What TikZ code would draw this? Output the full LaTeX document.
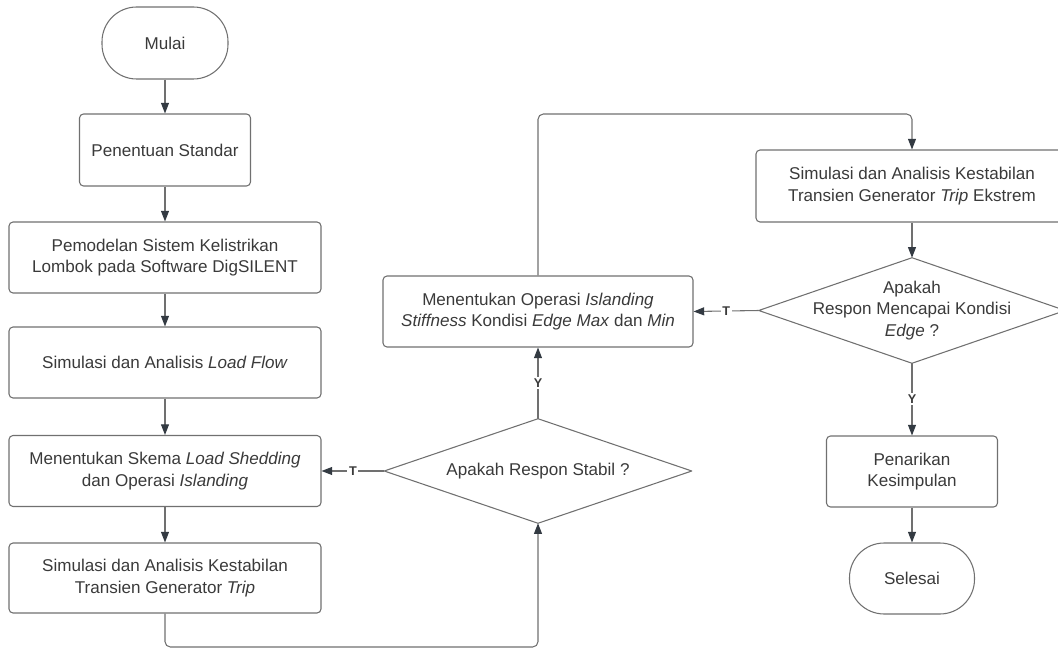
\documentclass[tikz,border=0pt]{standalone}
\usepackage{fontspec}
\setmainfont{Liberation Sans}
\usetikzlibrary{arrows.meta}
\definecolor{txt}{HTML}{3A3A3A}
\definecolor{ln}{HTML}{707070}
\definecolor{tip}{HTML}{333A42}
\tikzset{
  every node/.style={font=\fontsize{12.8pt}{16.3pt}\selectfont, text=txt},
  box/.style={draw=ln, line width=0.8pt, rounded corners=3pt, align=center, inner sep=2pt},
  term/.style={draw=ln, line width=0.8pt, rounded corners=26pt, align=center},
  dec/.style={align=center, inner sep=0pt},
  decline/.style={draw=ln, line width=0.8pt, line join=round},
  arr/.style={draw=ln, line width=0.8pt, -{Triangle[length=8pt,width=6pt,fill=tip,color=tip]}},
  lbl/.style={fill=white, inner sep=1.2pt, font=\fontsize{9.5pt}{10pt}\selectfont\bfseries, text=txt},
}
\begin{document}
\begin{tikzpicture}[x=0.75pt,y=-0.75pt]
\useasboundingbox (0,0) rectangle (1058,649);
% left column
\node[term, minimum width=94.5pt, minimum height=54pt] (mulai) at (165,43) {Mulai};
\node[box, minimum width=128.25pt, minimum height=54pt] (std) at (165,150) {Penentuan Standar};
\node[box, minimum width=234pt, minimum height=53.25pt] (model) at (165,257.5) {Pemodelan Sistem Kelistrikan\\Lombok pada Software DigSILENT};
\node[box, minimum width=234pt, minimum height=53.25pt] (lf) at (165,362.5) {Simulasi dan Analisis \textit{Load Flow}};
\node[box, minimum width=234pt, minimum height=53.25pt] (skema) at (165,471) {Menentukan Skema \textit{Load Shedding}\\dan Operasi \textit{Islanding}};
\node[box, minimum width=234pt, minimum height=52.5pt] (trip) at (165,578) {Simulasi dan Analisis Kestabilan\\Transien Generator \textit{Trip}};
% middle column
\node[dec, minimum width=230.25pt, minimum height=78pt] (d1) at (538,471) {Apakah Respon Stabil ?};
\draw[decline] (d1.north) -- (d1.east) -- (d1.south) -- (d1.west) -- cycle;
\node[box, minimum width=232.5pt, minimum height=53.25pt] (op) at (538,311.5) {Menentukan Operasi \textit{Islanding}\\\textit{Stiffness} Kondisi \textit{Edge Max} dan \textit{Min}};
% right column
\node[box, minimum width=234pt, minimum height=54pt] (ek) at (912,186) {Simulasi dan Analisis Kestabilan\\Transien Generator \textit{Trip} Ekstrem};
\node[dec, minimum width=229.5pt, minimum height=78.75pt] (d2) at (912,310.5) {Apakah\\Respon Mencapai Kondisi\\\textit{Edge} ?};
\draw[decline] (d2.north) -- (d2.east) -- (d2.south) -- (d2.west) -- cycle;
\node[box, minimum width=128.25pt, minimum height=53.25pt] (pen) at (912,471.5) {Penarikan\\Kesimpulan};
\node[term, minimum width=93.75pt, minimum height=53.25pt] (sel) at (912,578.5) {Selesai};
\coordinate (c1) at (165,647);
\coordinate (c2) at (538,647);
\coordinate (c3) at (538,114);
\coordinate (c4) at (912,114);
% connectors
\draw[arr] (mulai) -- (std);
\draw[arr] (std) -- (model);
\draw[arr] (model) -- (lf);
\draw[arr] (lf) -- (skema);
\draw[arr] (skema) -- (trip);
\draw[arr, rounded corners=4pt] (trip.south) -- (c1) -- (c2) -- (d1.south);
\draw[arr] (d1.west) -- node[lbl] {T} (skema.east);
\draw[arr] (d1.north) -- node[lbl] {Y} (op.south);
\draw[arr, rounded corners=4pt] (op.north) -- (c3) -- (c4) -- (ek.north);
\draw[arr] (ek) -- (d2.north);
\draw[arr] (d2.west) -- node[lbl] {T} (op.east);
\draw[arr] (d2.south) -- node[lbl] {Y} (pen.north);
\draw[arr] (pen) -- (sel);
\end{tikzpicture}
\end{document}
